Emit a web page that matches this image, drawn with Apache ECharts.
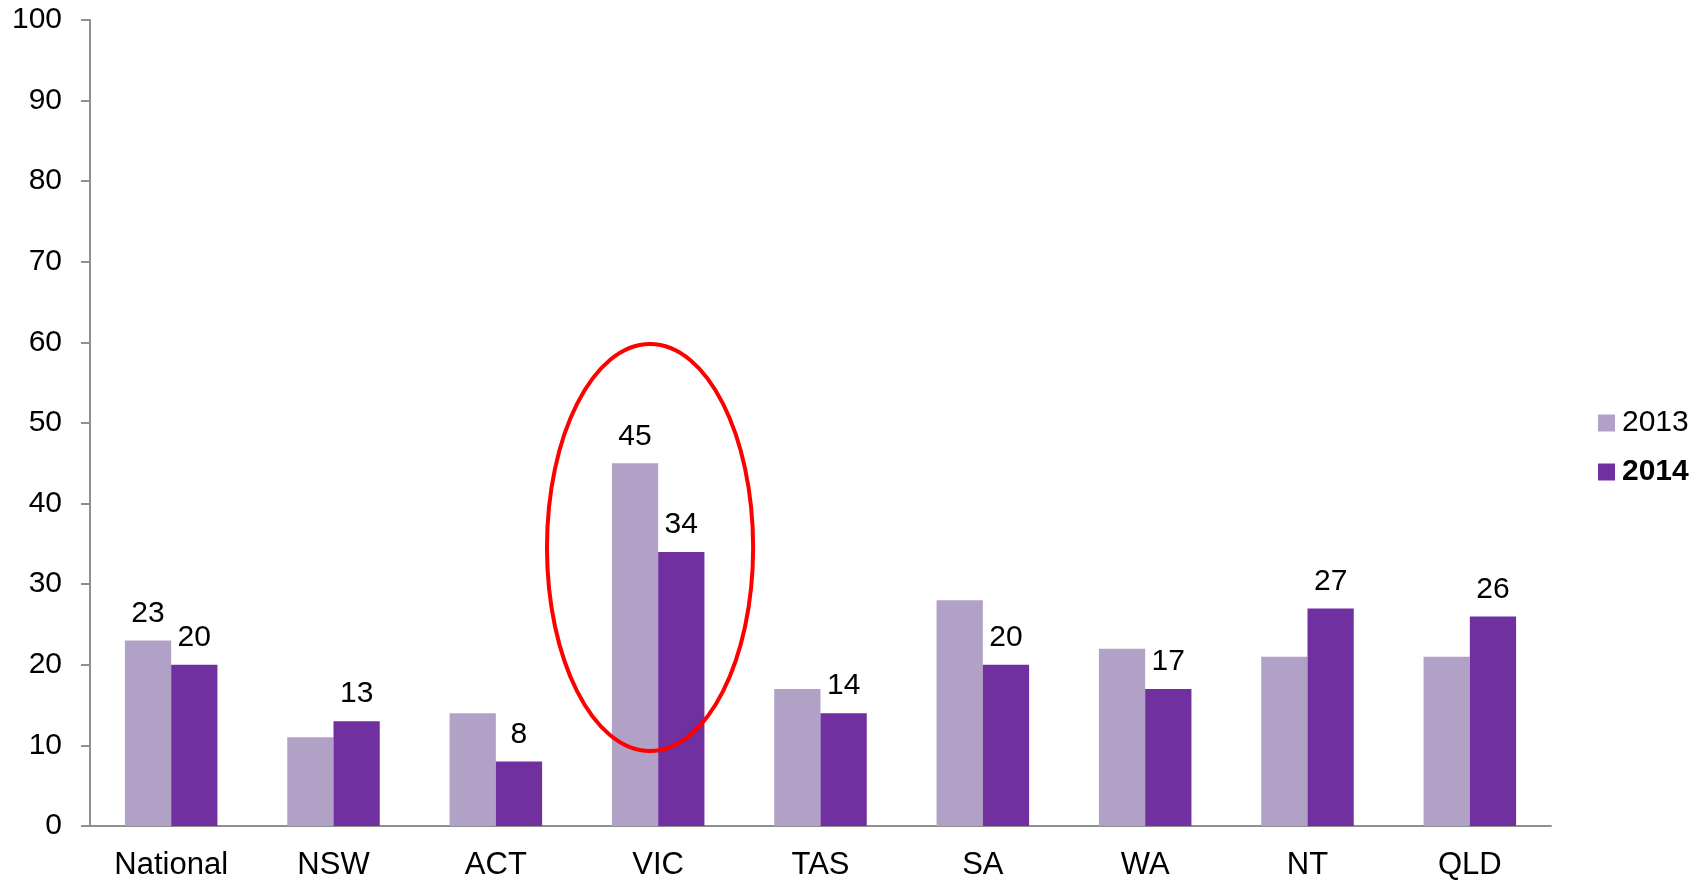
<!DOCTYPE html>
<html>
<head>
<meta charset="utf-8">
<script src="https://cdn.jsdelivr.net/npm/echarts@6/dist/echarts.min.js"></script>
<style>
  html, body { margin: 0; padding: 0; background: #fff; }
  #chart { width: 1706px; height: 881px; }
</style>
</head>
<body>
<div id="chart"></div>
<script>
const categories = ['National', 'NSW', 'ACT', 'VIC', 'TAS', 'SA', 'WA', 'NT', 'QLD'];
const values2013 = [23, 11, 14, 45, 17, 28, 22, 21, 21];
const values2014 = [20, 13, 8, 34, 14, 20, 17, 27, 26];
// only these 2013 bars carry a value label in the original
const labelled2013 = ['National', 'VIC'];
const yTicks = { min: 0, max: 100, interval: 10 };

const font = 'Liberation Sans, Arial, sans-serif';
const axisGrey = '#8f8f8f';

const chart = echarts.init(document.getElementById('chart'));

const option = {
  animation: false,
  grid: { left: 90, right: 155, top: 20, bottom: 54 },
  legend: {
    orient: 'vertical',
    left: 1593,
    top: 403,
    itemWidth: 17,
    itemHeight: 17,
    itemGap: 19,
    icon: 'rect',
    textStyle: { fontFamily: font, fontSize: 30, color: '#000', padding: [0, 0, 0, 2] },
    data: [
      { name: '2013' },
      { name: '2014', textStyle: { fontWeight: 'bold' } }
    ]
  },
  xAxis: {
    type: 'category',
    data: categories,
    axisLine: { lineStyle: { color: axisGrey, width: 2 } },
    axisTick: { length: 9, lineStyle: { color: axisGrey, width: 2 } },
    axisLabel: { fontFamily: font, fontSize: 31, color: '#000', margin: 24 }
  },
  yAxis: {
    type: 'value',
    min: yTicks.min,
    max: yTicks.max,
    interval: yTicks.interval,
    splitLine: { show: false },
    axisLine: { show: true, lineStyle: { color: axisGrey, width: 2 } },
    axisTick: { show: true, length: 9, lineStyle: { color: axisGrey, width: 2 } },
    axisLabel: { fontFamily: font, fontSize: 30, color: '#000', margin: 28 }
  },
  series: [
    {
      name: '2013',
      type: 'bar',
      barGap: '0%',
      barCategoryGap: '43%',
      itemStyle: { color: '#B1A1C7' },
      data: values2013.map((v, i) => ({
        value: v,
        label: { show: labelled2013.includes(categories[i]) }
      })),
      label: {
        position: 'top', distance: 12,
        fontFamily: font, fontSize: 30, color: '#000'
      }
    },
    {
      name: '2014',
      type: 'bar',
      itemStyle: { color: '#7030A0' },
      data: values2014,
      label: {
        show: true, position: 'top', distance: 12,
        fontFamily: font, fontSize: 30, color: '#000'
      }
    }
  ]
};
chart.setOption(option);

// red ellipse highlighting VIC, placed through the axes
const ellTop = chart.convertToPixel({ xAxisIndex: 0, yAxisIndex: 0 }, ['VIC', 59.8]);
const ellBottom = chart.convertToPixel({ xAxisIndex: 0, yAxisIndex: 0 }, ['VIC', 9.3]);
const catWidth = chart.convertToPixel({ xAxisIndex: 0 }, 'NSW') - chart.convertToPixel({ xAxisIndex: 0 }, 'National');
chart.setOption({
  graphic: [{
    type: 'ellipse',
    shape: {
      cx: ellTop[0] - catWidth * 0.05,
      cy: (ellTop[1] + ellBottom[1]) / 2,
      rx: catWidth * 0.635,
      ry: (ellBottom[1] - ellTop[1]) / 2
    },
    style: { fill: 'none', stroke: '#FF0000', lineWidth: 4 },
    z: 100
  }]
});
</script>
</body>
</html>
